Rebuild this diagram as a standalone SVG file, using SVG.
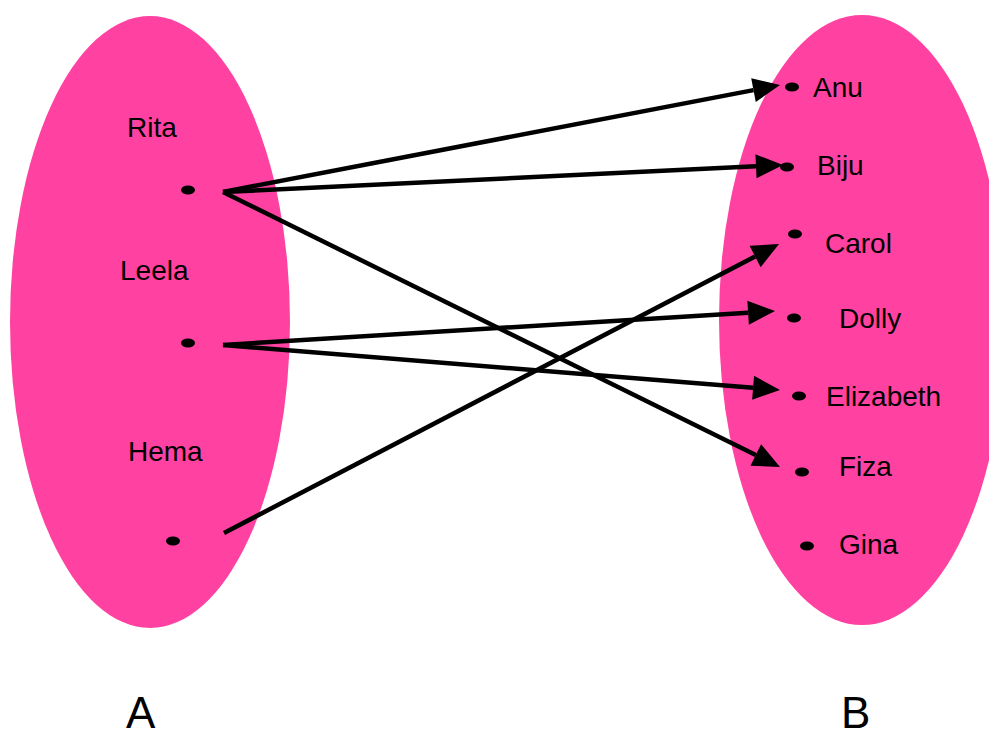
<svg xmlns="http://www.w3.org/2000/svg" width="989" height="731" viewBox="0 0 989 731">
<style>
.set{fill:#FF42A1;}
.dot{fill:#000;}
.lbl{font-family:"Liberation Sans",Arial,sans-serif;font-size:28px;fill:#000;}
.big{font-family:"Liberation Sans",Arial,sans-serif;font-size:44px;fill:#000;}
.arr{stroke:#000;stroke-width:4.5;fill:none;marker-end:url(#ah);}
</style>
<defs>
<marker id="ah" markerUnits="userSpaceOnUse" markerWidth="28" markerHeight="24" viewBox="0 0 28 24" refX="0" refY="12" orient="auto" overflow="visible">
<path d="M0,0 L27,12 L0,24 z" fill="#000"/>
</marker>
</defs>
<g id="setA">
<ellipse class="set" cx="150" cy="322" rx="140" ry="306"/>
</g>
<g id="setB">
<ellipse class="set" cx="862" cy="320" rx="143" ry="305"/>
</g>
<g id="Rita"><ellipse class="dot" cx="188" cy="190" rx="7" ry="4.5"/><text class="lbl" x="127" y="137">Rita</text></g>
<g id="Leela"><ellipse class="dot" cx="188" cy="343" rx="7" ry="4.5"/><text class="lbl" x="120" y="280">Leela</text></g>
<g id="Hema"><ellipse class="dot" cx="173" cy="541" rx="7" ry="4.5"/><text class="lbl" x="128" y="461">Hema</text></g>
<g id="Anu"><ellipse class="dot" cx="792" cy="87" rx="7" ry="4.5"/><text class="lbl" x="813" y="97">Anu</text></g>
<g id="Biju"><ellipse class="dot" cx="787" cy="167" rx="7" ry="4.5"/><text class="lbl" x="817" y="175">Biju</text></g>
<g id="Carol"><ellipse class="dot" cx="795" cy="234" rx="7" ry="4.5"/><text class="lbl" x="825" y="253">Carol</text></g>
<g id="Dolly"><ellipse class="dot" cx="794" cy="318" rx="7" ry="4.5"/><text class="lbl" x="839" y="328">Dolly</text></g>
<g id="Elizabeth"><ellipse class="dot" cx="799" cy="396" rx="7" ry="4.5"/><text class="lbl" x="826" y="406">Elizabeth</text></g>
<g id="Fiza"><ellipse class="dot" cx="802" cy="472" rx="7" ry="4.5"/><text class="lbl" x="839" y="476">Fiza</text></g>
<g id="Gina"><ellipse class="dot" cx="807" cy="546" rx="7" ry="4.5"/><text class="lbl" x="839" y="554">Gina</text></g>
<g id="labelA"><text class="big" x="126" y="728">A</text></g>
<g id="labelB"><text class="big" x="841" y="728">B</text></g>
<g id="connectors">
<line class="arr" x1="223" y1="192" x2="753.5" y2="90.1"/>
<line class="arr" x1="223" y1="192" x2="756" y2="166.3"/>
<line class="arr" x1="223" y1="192" x2="755.8" y2="455"/>
<line class="arr" x1="223" y1="345" x2="748.1" y2="312.7"/>
<line class="arr" x1="223" y1="345" x2="753.1" y2="387.8"/>
<line class="arr" x1="224" y1="533" x2="755.1" y2="256.5"/>
</g>
</svg>
